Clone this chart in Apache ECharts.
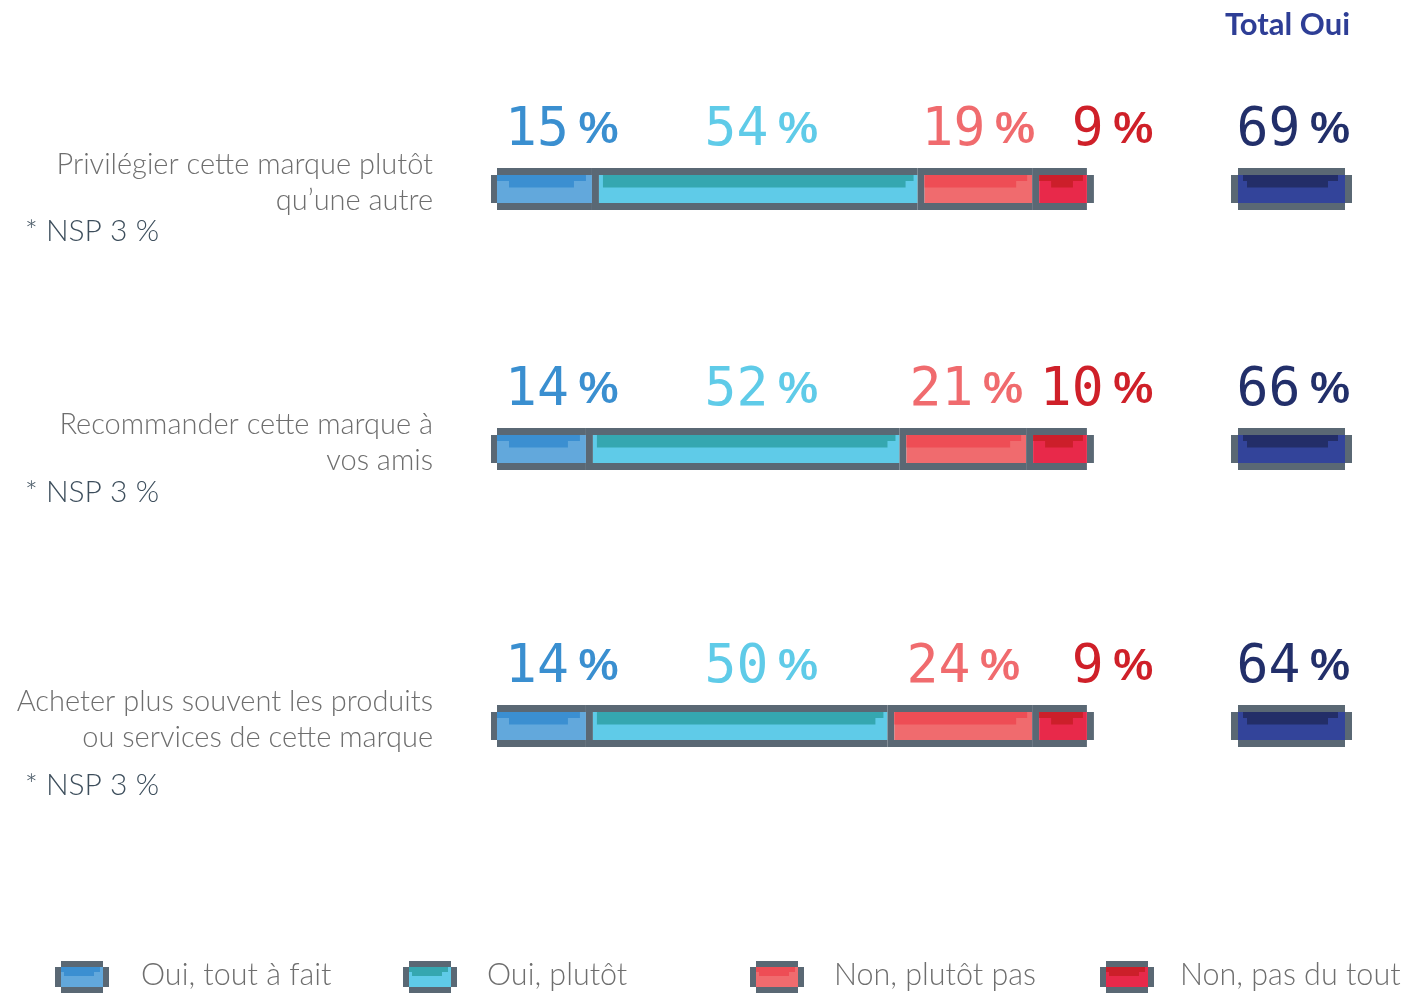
<!DOCTYPE html>
<html><head><meta charset="utf-8">
<script src="https://cdn.jsdelivr.net/npm/echarts@6/dist/echarts.min.js"></script>
<style>html,body{margin:0;padding:0;background:#fff}#main{width:1408px;height:994px}</style>
</head><body><div id="main"></div>
<script>
// ---- data ----
const categories = [
  'Privilégier cette marque plutôt\nqu’une autre',
  'Recommander cette marque à\nvos amis',
  'Acheter plus souvent les produits\nou services de cette marque'
];
const seriesNames = ['Oui, tout à fait', 'Oui, plutôt', 'Non, plutôt pas', 'Non, pas du tout'];
const ouiToutAFait = [15, 14, 14];
const ouiPlutot = [54, 52, 50];
const nonPlutotPas = [19, 21, 24];
const nonPasDuTout = [9, 10, 9];
const totalOui = [69, 66, 64];
const nsp = [3, 3, 3];
const totalTitle = 'Total Oui';

// ---- styling / layout ----
const segData = [ouiToutAFait, ouiPlutot, nonPlutotPas, nonPasDuTout];
const light = ['#62a8dc', '#5fcbe8', '#f06b6e', '#e8294a'];
const dark = ['#3b8fd1', '#35a7b0', '#ee4d55', '#cc1f2a'];
const labelColor = ['#3a8fd0', '#5fcbe8', '#f06b6e', '#cf2029'];
const bands = [[0, 6, 12, 18], [4, 4, 4, 12], [0, 5, 0, 16], [0, 4, 12, 14]];
const FRAME = '#5a6874';
const NAVY_LIGHT = '#33449a', NAVY_DARK = '#232e68', NAVY_LABEL = '#222f6a';
const rowCenters = [189, 449, 726];
const nspY = [231, 492, 785];
const GL = 505, GW = 603;

function pctText(v, color, x, y, align) {
  return {
    type: 'text', x: x, y: y, z2: 10,
    style: {
      text: '{d|' + v + '}{s| }{p|%}', align: align, verticalAlign: 'middle',
      rich: {
        d: { fontFamily: 'DejaVu Sans Mono', fontSize: 53, fill: color },
        s: { fontFamily: 'DejaVu Sans Mono', fontSize: 16, fill: color },
        p: { fontFamily: 'Liberation Sans', fontWeight: 'bold', fontSize: 45, fill: color }
      }
    }
  };
}
function rect(x, y, w, h, fill) {
  return { type: 'rect', shape: { x: x, y: y, width: Math.max(0, w), height: h }, style: { fill: fill } };
}
function pixelBar(L, R, cy, lightC, darkC, b) {
  return [
    rect(L, cy - 21, R - L, 7, FRAME),
    rect(L, cy + 14, R - L, 7, FRAME),
    rect(L - 7, cy - 14, 7, 28, FRAME),
    rect(R, cy - 14, 7, 28, FRAME),
    rect(L, cy - 14, R - L, 28, lightC),
    rect(L + b[0], cy - 14, R - L - b[0] - b[1], 6, darkC),
    rect(L + b[2], cy - 8, R - L - b[2] - b[3], 6.5, darkC)
  ];
}

function renderItem(params, api) {
  const s = api.value(0), e = api.value(2), k = api.value(3), v = api.value(4);
  const cy = api.coord([0, 0])[1];
  const x0 = api.coord([0, 0])[0];
  const children = [];
  const ly = cy - 58;
  if (k === 4) {
    const L = api.coord([100, 0])[0] + 130, R = L + 107;
    children.push(...pixelBar(L, R, cy, NAVY_LIGHT, NAVY_DARK, [5, 7, 9, 17]));
    children.push(pctText(v, NAVY_LABEL, R + 5, ly, 'right'));
    return { type: 'group', children: children };
  }
  const xs = api.coord([s, 0])[0], xe = api.coord([e, 0])[0];
  const first = k === 0, last = k === 3;
  const fillL = first ? xs - 8 : xs + 3.5;
  const fillR = last ? xe - 3 : xe - 3.5;
  const frameL = first ? fillL : xs - 3.5;
  children.push(rect(frameL, cy - 21, fillR - frameL, 7, FRAME));
  children.push(rect(frameL, cy + 14, fillR - frameL, 7, FRAME));
  if (!first) children.push(rect(xs - 3.5, cy - 14, 7, 28, FRAME));
  if (first) children.push(rect(fillL - 6, cy - 14, 6, 28, FRAME));
  if (last) children.push(rect(fillR, cy - 14, 7, 28, FRAME));
  const b = bands[k];
  children.push(rect(fillL, cy - 14, fillR - fillL, 28, light[k]));
  children.push(rect(fillL + b[0], cy - 14, fillR - fillL - b[0] - b[1], 6, dark[k]));
  children.push(rect(fillL + b[2], cy - 8, fillR - fillL - b[2] - b[3], 6.5, dark[k]));
  let lx, align;
  if (k === 0) { lx = x0; align = 'left'; }
  else if (k === 1) { lx = api.coord([42.5, 0])[0]; align = 'center'; }
  else if (k === 2) { lx = (xs + xe) / 2; align = 'center'; }
  else { lx = api.coord([107.5, 0])[0]; align = 'right'; }
  children.push(pctText(v, labelColor[k], lx, ly, align));
  return { type: 'group', children: children };
}

const grids = [], xAxes = [], yAxes = [], series = [], graphics = [];
categories.forEach(function (cat, r) {
  const cy = rowCenters[r];
  grids.push({ left: GL, width: GW, top: cy - 21, height: 42 });
  xAxes.push({ type: 'value', gridIndex: r, min: 0, max: 100, show: false });
  yAxes.push({ type: 'category', gridIndex: r, data: [cat], show: false });
  const data = [];
  let cum = 0;
  segData.forEach(function (arr, k) {
    data.push([cum, 0, cum + arr[r], k, arr[r]]);
    cum += arr[r];
  });
  data.push([0, 0, 0, 4, totalOui[r]]);
  series.push({
    type: 'custom', xAxisIndex: r, yAxisIndex: r, renderItem: renderItem,
    encode: { x: [0, 2], y: 1 }, data: data, silent: true
  });
  graphics.push({
    type: 'text', x: 433, y: cy - 6,
    style: { text: cat, fontFamily: 'Lato', fontWeight: 300, fontSize: 29, lineHeight: 36, fill: '#6e6e6e', align: 'right', verticalAlign: 'middle' }
  });
  graphics.push({
    type: 'text', x: 25, y: nspY[r],
    style: { text: '* NSP ' + nsp[r] + ' %', fontFamily: 'Lato', fontWeight: 300, fontSize: 30, fill: '#3d4e5c', verticalAlign: 'middle' }
  });
});

graphics.push({
  type: 'text', x: 1350, y: 25,
  style: { text: totalTitle, fontFamily: 'Lato', fontWeight: 'bold', fontSize: 31, fill: '#2e3e96', align: 'right', verticalAlign: 'middle' }
});

const legendIconX = [61, 409, 756, 1106];
const legendTextX = [141, 487, 834, 1180];
seriesNames.forEach(function (name, k) {
  const L = legendIconX[k], R = L + 42, cy = 977;
  graphics.push({
    type: 'group', children: [
      rect(L, cy - 16, R - L, 6, FRAME),
      rect(L, cy + 10, R - L, 6, FRAME),
      rect(L - 6, cy - 10, 6, 20, FRAME),
      rect(R, cy - 10, 6, 20, FRAME),
      rect(L, cy - 10, R - L, 20, light[k]),
      rect(L, cy - 10, R - L - 3, 5, dark[k]),
      rect(L + 3, cy - 5, R - L - 12, 4, dark[k])
    ]
  });
  graphics.push({
    type: 'text', x: legendTextX[k], y: 975,
    style: { text: name, fontFamily: 'Lato', fontWeight: 300, fontSize: 30.5, fill: '#6e6e6e', verticalAlign: 'middle' }
  });
});

const chart = echarts.init(document.getElementById('main'), null, { renderer: 'canvas' });
chart.setOption({
  backgroundColor: '#ffffff',
  animation: false,
  grid: grids, xAxis: xAxes, yAxis: yAxes, series: series,
  graphic: graphics
});
</script></body></html>
